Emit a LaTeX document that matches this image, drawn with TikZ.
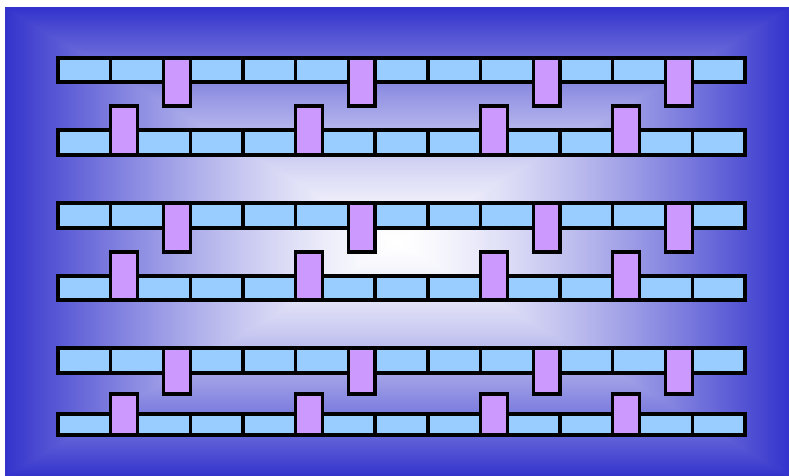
\documentclass[tikz,border=0pt]{standalone}
\definecolor{segblue}{RGB}{153,204,255}
\definecolor{tabpurple}{RGB}{204,153,255}
\pgfdeclarefunctionalshading{rectgrad}{\pgfpoint{-50bp}{-50bp}}{\pgfpoint{50bp}{50bp}}{}{
  abs exch abs 2 copy lt {exch} if pop 25 div dup 1 gt {pop 1} if 1.4 exp
  dup dup 0.8 mul 1 exch sub exch 0.8 mul 1 exch sub 3 -1 roll 0.2 mul 1 exch sub
}
\tikzset{
  segbox/.style={draw=black, line width=3.2pt, fill=segblue},
  tabbox/.style={draw=black, line width=3.2pt, fill=tabpurple}
}
\newcommand\pairrows[5]{%
  \foreach \a/\b in {0/2,2/4,5/7,7/9,9/11,12/14,14/16,16/18,19/21,21/23,24/26}
    \draw[segbox] ({58+\a*26.423},#1) rectangle ({58+\b*26.423},#2);
  \foreach \k in {4,11,18,23}
    \draw[tabbox] ({58+\k*26.423},#1) rectangle ({58+(\k+1)*26.423},#3);
  \foreach \a/\b in {0/2,3/5,5/7,7/9,10/12,12/14,14/16,17/19,19/21,22/24,24/26}
    \draw[segbox] ({58+\a*26.423},#4) rectangle ({58+\b*26.423},#5);
  \foreach \k in {2,9,16,21}
    \draw[tabbox] ({58+\k*26.423},#3) rectangle ({58+(\k+1)*26.423},#5);
}
\begin{document}
\begin{tikzpicture}[x=1pt,y=-1pt]
  \useasboundingbox (0,0) rectangle (789,476);
  \fill[white] (0,0) rectangle (789,476);
  \shade[shading=rectgrad] (5,8) rectangle (789,476);
  \pairrows{58}{82}{106}{130}{155}
  \pairrows{203}{228}{252}{276}{300}
  \pairrows{348}{373}{394}{414}{435}
\end{tikzpicture}
\end{document}
